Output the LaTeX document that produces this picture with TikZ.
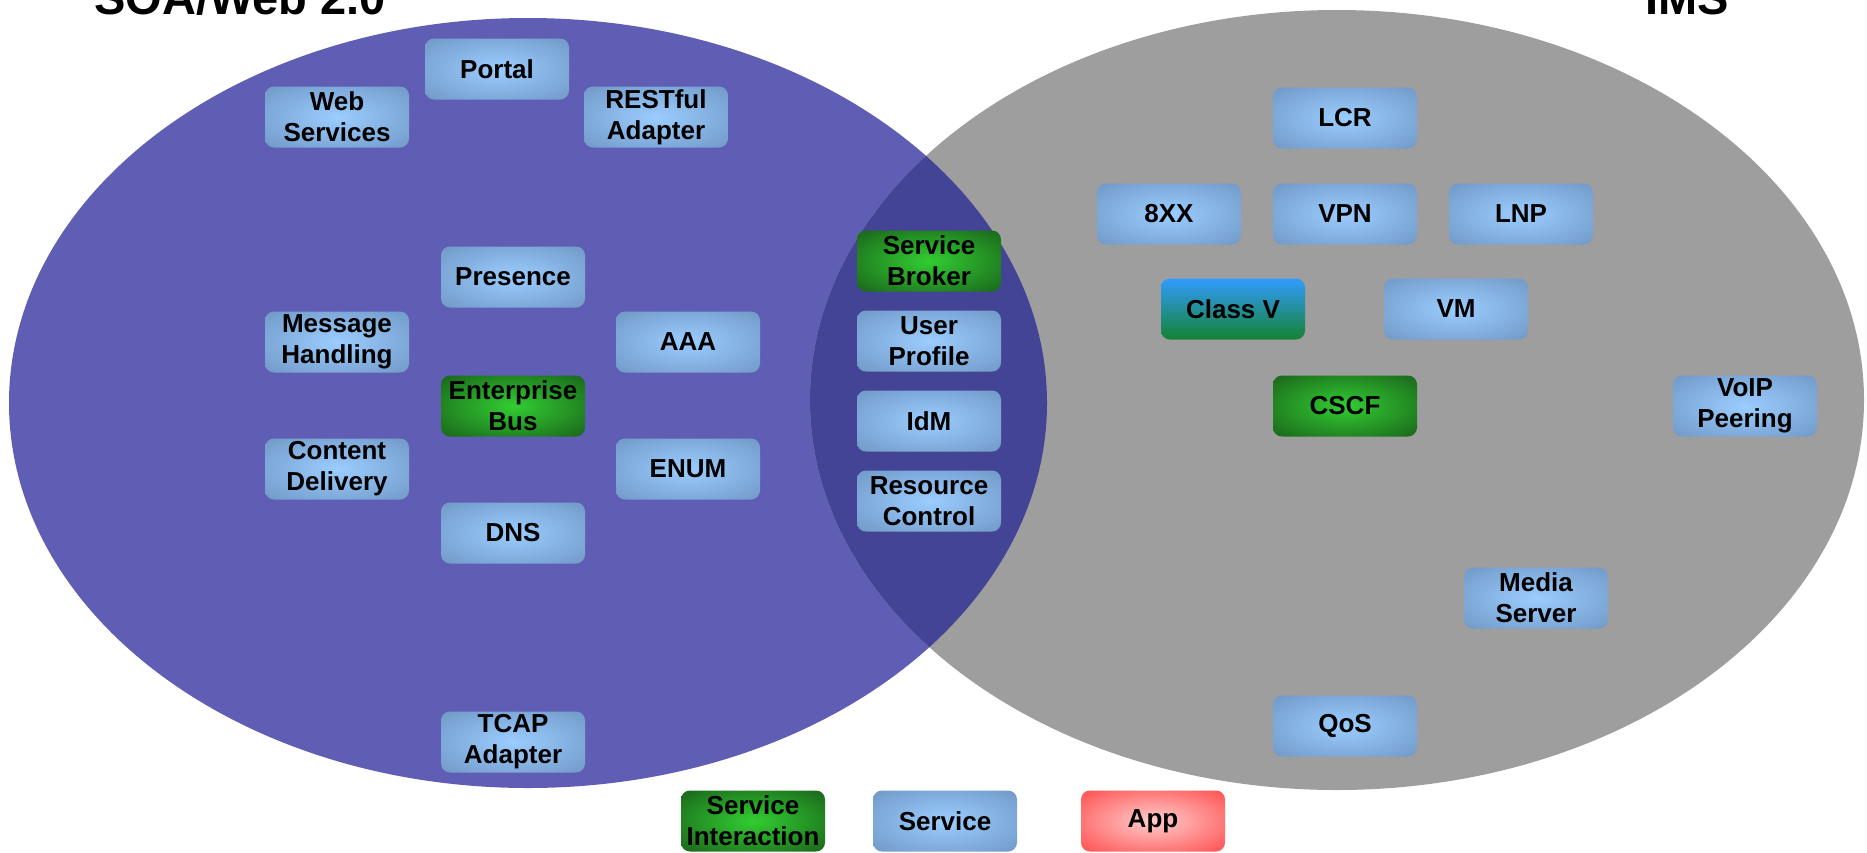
\documentclass[tikz,border=0pt]{standalone}
\usepackage{fontspec}
\setmainfont{Liberation Sans}
\definecolor{soa}{RGB}{95,94,180}
\definecolor{ims}{RGB}{158,158,158}
\definecolor{both}{RGB}{68,68,150}
\definecolor{svcin}{RGB}{155,205,255}
\definecolor{svcout}{RGB}{112,152,198}
\definecolor{grnin}{RGB}{50,205,50}
\definecolor{grnout}{RGB}{26,100,26}
\definecolor{appin}{RGB}{255,205,205}
\definecolor{appout}{RGB}{255,85,85}
\definecolor{cvtop}{RGB}{50,155,255}
\definecolor{cvbot}{RGB}{20,130,50}
\pgfdeclareradialshading{svcshade}{\pgfpointorigin}{color(0bp)=(svcin); color(36bp)=(svcout); color(50bp)=(svcout)}
\pgfdeclareradialshading{grnshade}{\pgfpointorigin}{color(0bp)=(grnin); color(36bp)=(grnout); color(50bp)=(grnout)}
\pgfdeclareradialshading{appshade}{\pgfpointorigin}{color(0bp)=(appin); color(34bp)=(appout); color(50bp)=(appout)}
\begin{document}
\begin{tikzpicture}[x=1pt,y=-1pt,
  box/.style={rounded corners=9pt, minimum width=144pt, minimum height=61pt,
    inner sep=0pt, align=center, text=black,
    font=\fontsize{26}{31}\selectfont\bfseries},
  svc/.style={box, shade, shading=svcshade},
  grn/.style={box, shade, shading=grnshade},
  appbox/.style={box, shade, shading=appshade},
  classv/.style={box, top color=cvtop, bottom color=cvbot},
  title/.style={anchor=base west, inner sep=0pt, text=black,
    font=\fontsize{47}{56}\selectfont\bfseries}]
\useasboundingbox (0,0) rectangle (1867,852);
% sets
\fill[soa] (528,403) ellipse [x radius=519pt, y radius=385pt];
\fill[ims] (1337,400) ellipse [x radius=527pt, y radius=390pt];
\begin{scope}
  \clip (528,403) ellipse [x radius=519pt, y radius=385pt];
  \fill[both] (1337,400) ellipse [x radius=527pt, y radius=390pt];
\end{scope}
% titles
\node[title] (tsoa) at (94,14) {SOA/Web 2.0};
\node[title] (tims) at (1645,14) {IMS};
% SOA side
\node[svc] (portal) at (497,69) {Portal};
\node[svc] (websvc) at (337,117) {Web\\Services};
\node[svc] (rest) at (656,117) {RESTful\\Adapter};
\node[svc] (presence) at (513,277) {Presence};
\node[svc] (msg) at (337,342) {Message\\Handling};
\node[svc] (aaa) at (688,342) {AAA};
\node[grn] (esb) at (513,406) {Enterprise\\Bus};
\node[svc] (cdn) at (337,469) {Content\\Delivery};
\node[svc] (enum) at (688,469) {ENUM};
\node[svc] (dns) at (513,533) {DNS};
\node[svc] (tcap) at (513,742) {TCAP\\Adapter};
% overlap
\node[grn] (broker) at (929,261) {Service\\Broker};
\node[svc] (profile) at (929,341) {User\\Profile};
\node[svc] (idm) at (929,421) {IdM};
\node[svc] (rc) at (929,501) {Resource\\Control};
% IMS side
\node[svc] (lcr) at (1345,118) {LCR};
\node[svc] (xx) at (1169,214) {8XX};
\node[svc] (vpn) at (1345,214) {VPN};
\node[svc] (lnp) at (1521,214) {LNP};
\node[classv] (classv) at (1233,309) {Class V};
\node[svc] (vm) at (1456,309) {VM};
\node[grn] (cscf) at (1345,406) {CSCF};
\node[svc] (voip) at (1745,406) {VoIP\\Peering};
\node[svc] (media) at (1536,598) {Media\\Server};
\node[svc] (qos) at (1345,726) {QoS};
% legend
\node[grn] (lgsi) at (753,821) {Service\\Interaction};
\node[svc] (lgsvc) at (945,821) {Service};
\node[appbox] (lgapp) at (1153,821) {App};
\end{tikzpicture}
\end{document}
